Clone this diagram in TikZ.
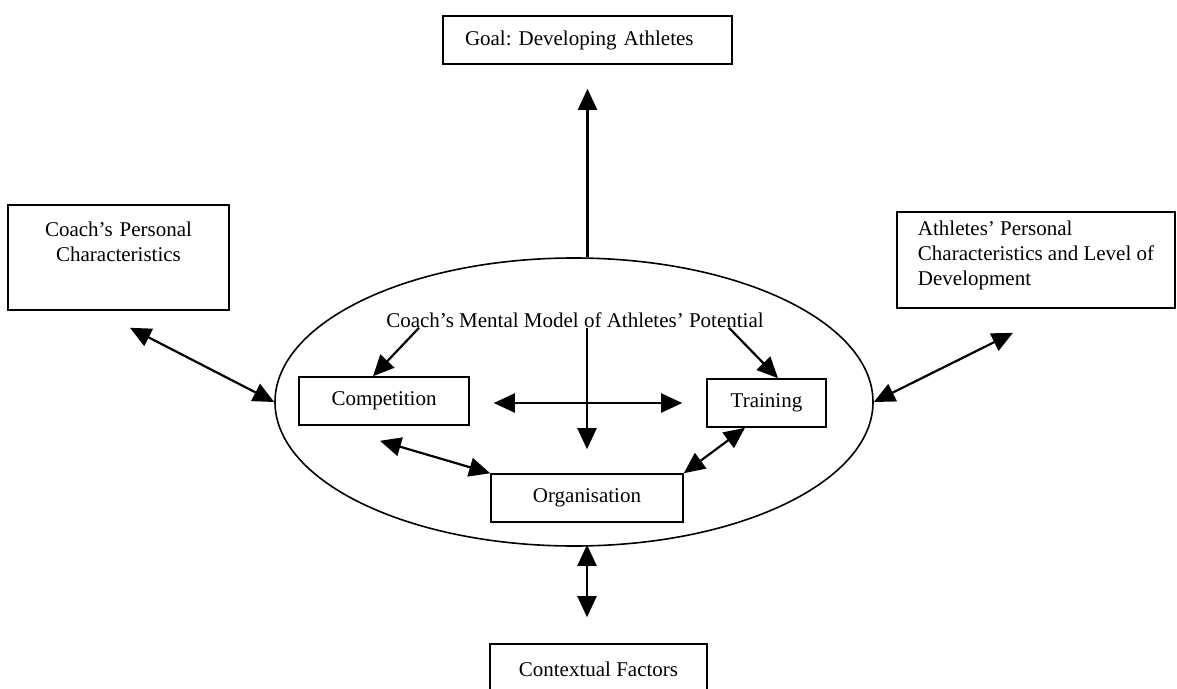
\documentclass[tikz,border=0pt]{standalone}
\usepackage{fontspec}
\setmainfont{Liberation Serif}
\usetikzlibrary{shapes.geometric,arrows.meta}
\frenchspacing
\begin{document}
\begin{tikzpicture}[x=1pt,y=-1pt,
  txt/.style={font=\fontsize{21}{25}\selectfont},
  box/.style={txt, draw, line width=1.6pt, inner sep=0pt},
  arr/.style={line width=2.2pt, -{Triangle[length=21pt,width=19pt]}},
  dbl/.style={line width=2.2pt, {Triangle[length=21pt,width=19pt]}-{Triangle[length=21pt,width=19pt]}},
]
\useasboundingbox (0,0) rectangle (1177,688);

% outer boxes
\node[box, minimum height=48pt, text width=245pt, inner xsep=22pt, align=left] (goal) at (587.5,40) {Goal: Developing Athletes};
\node[box, minimum height=105pt, text width=221pt, align=center] (coach) at (118.5,257.5) {Coach’s Personal\\Characteristics\\[6pt]\mbox{}};
\node[box, minimum height=96pt, minimum width=278pt, align=left] (ath) at (1036,260) {Athletes’ Personal\\Characteristics and Level of\\Development\\[-11pt]\mbox{}};
\node[box, minimum height=56pt, minimum width=217pt] (ctx) at (598.5,672) {\raisebox{6pt}{Contextual Factors}};

% ellipse and its contents
\node[ellipse, draw, line width=1.6pt, minimum width=598pt, minimum height=288pt, inner sep=0pt] (ell) at (574,402) {};
\node[txt, inner sep=0pt] (mm) at (575,320) {Coach’s Mental Model of Athletes’ Potential};
\node[box, minimum width=170pt, minimum height=48pt] (comp) at (384,401) {Competition};
\node[box, minimum width=119pt, minimum height=48pt] (train) at (766.5,403) {Training};
\node[box, minimum width=192pt, minimum height=48pt] (org) at (587,498) {Organisation};

% outer connectors
\draw[arr] (goal.south |- ell.north) -- ([yshift=-24pt]goal.south);
\draw[dbl] ([shift={(11.5pt,-17pt)}]coach.south) -- (ell.west);
\draw[dbl] (ell.east) -- ([shift={(-23pt,-24pt)}]ath.south);
\draw[dbl] ([yshift=2pt]org.south |- ell.south) -- ([yshift=26pt]org.south |- ctx.north);

% inner connectors
\draw[arr] ([xshift=33pt]mm.south west) -- ([xshift=-11pt]comp.north);
\draw[arr] ([xshift=-35pt]mm.south east) -- ([xshift=11.5pt]train.north);
\draw[arr] (mm.south -| org.north) -- ([yshift=24pt]org.north);
\draw[dbl] ([xshift=24pt]comp.east |- train.west) -- ([xshift=-24pt]train.west);
\draw[dbl] ([shift={(-4pt,-15pt)}]comp.south) -- (org.north west);
\draw[dbl] (org.north east) -- ([xshift=-21.5pt]train.south);
\end{tikzpicture}
\end{document}
